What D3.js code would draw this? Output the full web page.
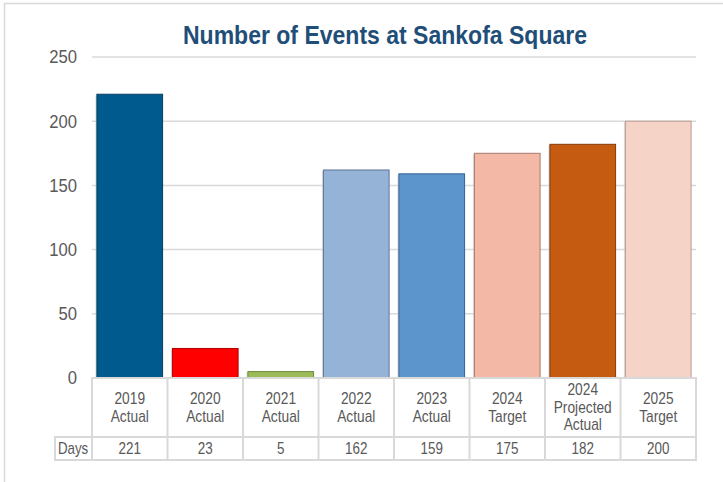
<!DOCTYPE html>
<html>
<head>
<meta charset="utf-8">
<script src="https://cdn.jsdelivr.net/npm/d3@7"></script>
<style>
  body { margin: 0; background: #fff; }
  svg { display: block; }
  text { font-family: "Liberation Sans", Arial, sans-serif; }
</style>
</head>
<body>
<svg width="723" height="482"></svg>
<script>
const categories = ["2019|Actual", "2020|Actual", "2021|Actual", "2022|Actual", "2023|Actual", "2024|Target", "2024|Projected|Actual", "2025|Target"];
const days = [221, 23, 5, 162, 159, 175, 182, 200];
const yTicks = [0, 50, 100, 150, 200, 250];
const rowLabel = "Days";
const chartTitle = "Number of Events at Sankofa Square";

const fills = ["#005a8e", "#ff0000", "#9bbb59", "#95b3d7", "#5b95cb", "#f4b9a6", "#c55a11", "#f6d3c7"];
const strokes = ["#0a3d63", "#b00000", "#6f8a3c", "#5c7393", "#2f6395", "#a77a6c", "#843b0b", "#b89a90"];

const svg = d3.select("svg");
const gridColor = "#d9d9d9";
const textColor = "#595959";

const plot = { left: 92, right: 696, top: 57, bottom: 378 };
const catRowBottom = 437;
const daysRowBottom = 460;

// narrow the glyphs horizontally around a given anchor x
const squeeze = (sel, sx, cx) =>
  sel.attr("transform", (d, i) => {
    const c = typeof cx === "function" ? cx(d, i) : cx;
    return `translate(${c},0) scale(${sx},1) translate(${-c},0)`;
  });

// outer frame
svg.append("path")
  .attr("d", "M4.5,482 V3.5 H723")
  .attr("fill", "none")
  .attr("stroke", gridColor)
  .attr("stroke-width", 1.5);

svg.append("text")
  .attr("x", 183)
  .attr("y", 43.5)
  .attr("font-size", 25)
  .attr("font-weight", "bold")
  .attr("fill", "#1f4e79")
  .attr("textLength", 404)
  .attr("lengthAdjust", "spacingAndGlyphs")
  .text(chartTitle);

const x = d3.scaleBand()
  .domain(categories)
  .range([plot.left, plot.right])
  .paddingInner(0.13)
  .paddingOuter(0.065);

const xCell = d3.scaleBand()
  .domain(categories)
  .range([plot.left, plot.right]);

const y = d3.scaleLinear()
  .domain([0, 250])
  .range([plot.bottom, plot.top]);

// gridlines
svg.append("g")
  .selectAll("line")
  .data(yTicks.filter((d) => d > 0))
  .join("line")
  .attr("x1", plot.left)
  .attr("x2", plot.right)
  .attr("y1", (d) => y(d))
  .attr("y2", (d) => y(d))
  .attr("stroke", gridColor)
  .attr("stroke-width", 1.5);

// y axis labels
const yAxis = d3.axisLeft(y).tickValues(yTicks).tickSize(0).tickPadding(15);
const yAxisG = svg.append("g")
  .attr("transform", `translate(${plot.left},0)`)
  .call(yAxis);
yAxisG.select(".domain").remove();
yAxisG.selectAll("text")
  .attr("font-size", 18.5)
  .attr("fill", textColor)
  .style("font-family", '"Liberation Sans", Arial, sans-serif');
squeeze(yAxisG.selectAll("text"), 0.9, -15);

// bar shadows
svg.append("g")
  .selectAll("rect")
  .data(days)
  .join("rect")
  .attr("x", (d, i) => x(categories[i]) - 1.5)
  .attr("y", (d) => y(d) + 1)
  .attr("width", x.bandwidth())
  .attr("height", (d) => y(0) - y(d) - 1)
  .attr("fill", "#c8c8c8")
  .attr("opacity", 0.6);

// bars
svg.append("g")
  .selectAll("rect")
  .data(days)
  .join("rect")
  .attr("x", (d, i) => x(categories[i]))
  .attr("y", (d) => y(d))
  .attr("width", x.bandwidth())
  .attr("height", (d) => y(0) - y(d))
  .attr("fill", (d, i) => fills[i])
  .attr("stroke", (d, i) => strokes[i])
  .attr("stroke-width", 1);

// data table
const table = svg.append("g")
  .attr("fill", "none")
  .attr("stroke", gridColor)
  .attr("stroke-width", 2);

table.append("rect")
  .attr("x", plot.left)
  .attr("y", plot.bottom)
  .attr("width", plot.right - plot.left)
  .attr("height", daysRowBottom - plot.bottom);
table.append("line")
  .attr("x1", 55).attr("x2", plot.right)
  .attr("y1", catRowBottom).attr("y2", catRowBottom);
table.append("path")
  .attr("d", `M${plot.left},${catRowBottom} H55 V${daysRowBottom} H${plot.left}`);
table.selectAll(".sep")
  .data(categories.slice(1))
  .join("line")
  .attr("class", "sep")
  .attr("x1", (d) => xCell(d))
  .attr("x2", (d) => xCell(d))
  .attr("y1", plot.bottom)
  .attr("y2", daysRowBottom);

const cellMid = (d) => xCell(d) + xCell.bandwidth() / 2;

// category labels
const catG = svg.append("g")
  .selectAll("text")
  .data(categories)
  .join("text")
  .attr("x", cellMid)
  .attr("text-anchor", "middle")
  .attr("font-size", 16)
  .attr("fill", textColor);
catG.each(function (d) {
  const lines = d.split("|");
  const mid = (plot.bottom + catRowBottom) / 2;
  const lh = 17.5;
  const start = mid - ((lines.length - 1) * lh) / 2 + 5.5;
  d3.select(this)
    .selectAll("tspan")
    .data(lines)
    .join("tspan")
    .attr("x", cellMid(d))
    .attr("y", (l, i) => start + i * lh)
    .text((l) => l);
});
squeeze(catG, 0.86, cellMid);

// days row
const dayText = svg.append("g")
  .selectAll("text")
  .data(days)
  .join("text")
  .attr("x", (d, i) => cellMid(categories[i]))
  .attr("y", (catRowBottom + daysRowBottom) / 2 + 6)
  .attr("text-anchor", "middle")
  .attr("font-size", 16)
  .attr("fill", textColor)
  .text((d) => d);
squeeze(dayText, 0.84, (d, i) => cellMid(categories[i]));

const dayLabel = svg.append("text")
  .attr("x", 58)
  .attr("y", (catRowBottom + daysRowBottom) / 2 + 6)
  .attr("font-size", 16)
  .attr("fill", textColor)
  .text(rowLabel);
squeeze(dayLabel, 0.83, 58);
</script>
</body>
</html>
